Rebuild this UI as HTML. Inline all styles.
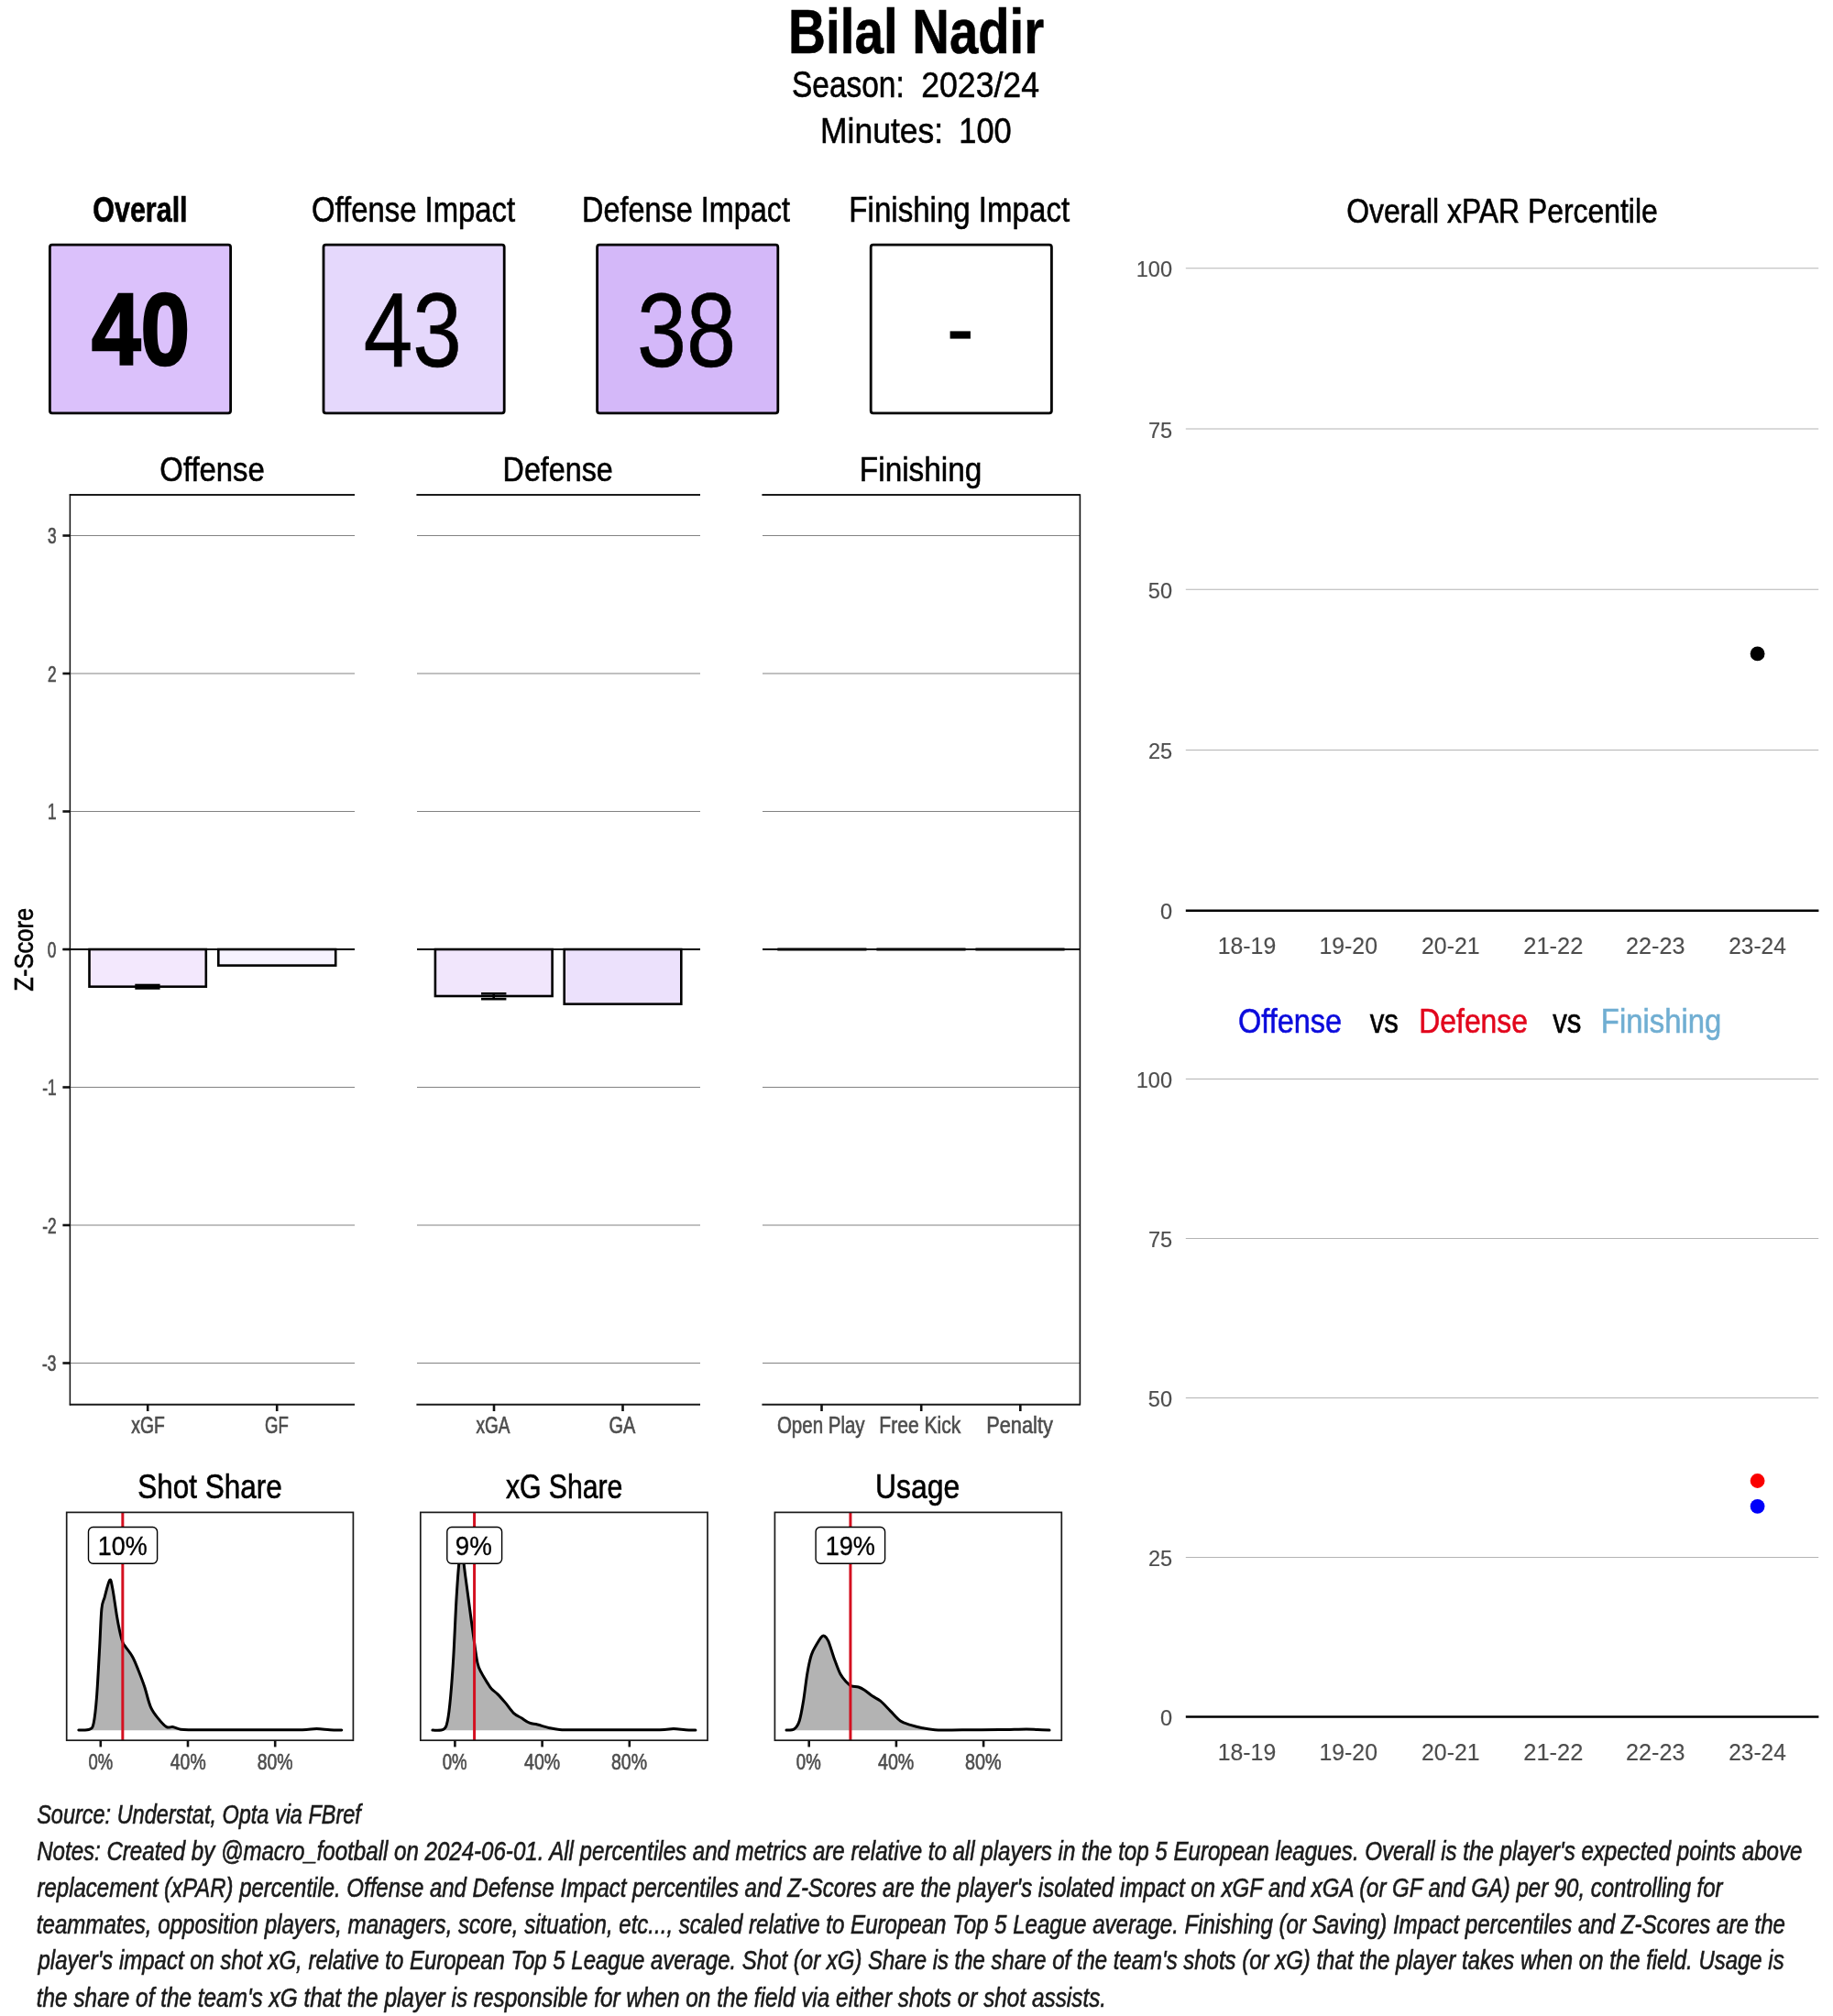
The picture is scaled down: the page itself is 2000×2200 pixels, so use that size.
<!DOCTYPE html>
<html><head><meta charset="utf-8"><style>
html,body{margin:0;padding:0;background:#fff;}
svg{display:block;will-change:transform;}
text{font-family:"Liberation Sans",sans-serif;white-space:pre;}
</style></head><body>
<svg width="2000" height="2200" viewBox="0 0 2000 2200">
<rect x="0" y="0" width="2000" height="2200" fill="#FFFFFF"/>
<text transform="translate(860.01,57.90) scale(0.8274,1)" font-size="68.55" font-weight="bold" font-style="normal" fill="#000" stroke="#000" stroke-width="0.604">Bilal</text>
<text transform="translate(995.34,57.90) scale(0.8204,1)" font-size="68.55" font-weight="bold" font-style="normal" fill="#000" stroke="#000" stroke-width="0.609">Nadir</text>
<text transform="translate(863.99,105.90) scale(0.8364,1)" font-size="40.00" font-weight="normal" font-style="normal" fill="#000" stroke="#000" stroke-width="0.598">Season:</text>
<text transform="translate(1005.22,105.90) scale(0.9033,1)" font-size="39.43" font-weight="normal" font-style="normal" fill="#000" stroke="#000" stroke-width="0.554">2023/24</text>
<text transform="translate(894.96,155.50) scale(0.8974,1)" font-size="39.57" font-weight="normal" font-style="normal" fill="#000" stroke="#000" stroke-width="0.557">Minutes:</text>
<text transform="translate(1046.32,155.50) scale(0.8822,1)" font-size="39.00" font-weight="normal" font-style="normal" fill="#000" stroke="#000" stroke-width="0.567">100</text>
<text transform="translate(101.28,242.30) scale(0.7904,1)" font-size="38.55" font-weight="bold" font-style="normal" fill="#000" stroke="#000" stroke-width="0.633">Overall</text>
<text transform="translate(339.92,242.30) scale(0.8464,1)" font-size="38.84" font-weight="normal" font-style="normal" fill="#000" stroke="#000" stroke-width="0.591">Offense Impact</text>
<text transform="translate(635.01,242.30) scale(0.8351,1)" font-size="38.84" font-weight="normal" font-style="normal" fill="#000" stroke="#000" stroke-width="0.599">Defense Impact</text>
<text transform="translate(926.35,242.30) scale(0.8516,1)" font-size="38.84" font-weight="normal" font-style="normal" fill="#000" stroke="#000" stroke-width="0.587">Finishing Impact</text>
<rect x="54.40" y="267.20" width="197.20" height="183.60" fill="#DBC1FB" stroke="#000" stroke-width="2.8" rx="2.5"/>
<rect x="353.00" y="267.20" width="197.20" height="183.60" fill="#E5D8FC" stroke="#000" stroke-width="2.8" rx="2.5"/>
<rect x="651.60" y="267.20" width="197.20" height="183.60" fill="#D4B8F9" stroke="#000" stroke-width="2.8" rx="2.5"/>
<rect x="950.20" y="267.20" width="197.20" height="183.60" fill="#FFFFFF" stroke="#000" stroke-width="2.8" rx="2.5"/>
<text transform="translate(99.95,398.31) scale(0.8648,1)" font-size="111.47" font-weight="bold" font-style="normal" fill="#000" stroke="#000" stroke-width="2.544">40</text>
<text transform="translate(396.77,399.60) scale(0.8362,1)" font-size="115.14" font-weight="normal" font-style="normal" fill="#000" stroke="#000" stroke-width="0.598">43</text>
<text transform="translate(695.01,399.60) scale(0.8440,1)" font-size="115.14" font-weight="normal" font-style="normal" fill="#000" stroke="#000" stroke-width="0.592">38</text>
<rect x="1036.60" y="361.40" width="22.30" height="8.20" fill="#000" stroke="none" stroke-width="0" rx="0"/>
<text transform="translate(174.32,524.80) scale(0.9073,1)" font-size="36.23" font-weight="normal" font-style="normal" fill="#000" stroke="#000" stroke-width="0.551">Offense</text>
<text transform="translate(548.62,525.20) scale(0.8901,1)" font-size="36.23" font-weight="normal" font-style="normal" fill="#000" stroke="#000" stroke-width="0.562">Defense</text>
<text transform="translate(937.83,524.50) scale(0.9214,1)" font-size="36.23" font-weight="normal" font-style="normal" fill="#000" stroke="#000" stroke-width="0.543">Finishing</text>
<line x1="76.40" y1="584.50" x2="387.00" y2="584.50" stroke="#828282" stroke-width="1.1"/>
<line x1="455.00" y1="584.50" x2="764.00" y2="584.50" stroke="#828282" stroke-width="1.1"/>
<line x1="832.00" y1="584.50" x2="1178.40" y2="584.50" stroke="#828282" stroke-width="1.1"/>
<line x1="76.40" y1="735.00" x2="387.00" y2="735.00" stroke="#828282" stroke-width="1.1"/>
<line x1="455.00" y1="735.00" x2="764.00" y2="735.00" stroke="#828282" stroke-width="1.1"/>
<line x1="832.00" y1="735.00" x2="1178.40" y2="735.00" stroke="#828282" stroke-width="1.1"/>
<line x1="76.40" y1="885.50" x2="387.00" y2="885.50" stroke="#828282" stroke-width="1.1"/>
<line x1="455.00" y1="885.50" x2="764.00" y2="885.50" stroke="#828282" stroke-width="1.1"/>
<line x1="832.00" y1="885.50" x2="1178.40" y2="885.50" stroke="#828282" stroke-width="1.1"/>
<line x1="76.40" y1="1186.50" x2="387.00" y2="1186.50" stroke="#828282" stroke-width="1.1"/>
<line x1="455.00" y1="1186.50" x2="764.00" y2="1186.50" stroke="#828282" stroke-width="1.1"/>
<line x1="832.00" y1="1186.50" x2="1178.40" y2="1186.50" stroke="#828282" stroke-width="1.1"/>
<line x1="76.40" y1="1337.00" x2="387.00" y2="1337.00" stroke="#828282" stroke-width="1.1"/>
<line x1="455.00" y1="1337.00" x2="764.00" y2="1337.00" stroke="#828282" stroke-width="1.1"/>
<line x1="832.00" y1="1337.00" x2="1178.40" y2="1337.00" stroke="#828282" stroke-width="1.1"/>
<line x1="76.40" y1="1487.50" x2="387.00" y2="1487.50" stroke="#828282" stroke-width="1.1"/>
<line x1="455.00" y1="1487.50" x2="764.00" y2="1487.50" stroke="#828282" stroke-width="1.1"/>
<line x1="832.00" y1="1487.50" x2="1178.40" y2="1487.50" stroke="#828282" stroke-width="1.1"/>
<line x1="75.80" y1="540.00" x2="387.00" y2="540.00" stroke="#1a1a1a" stroke-width="2.0"/>
<line x1="75.80" y1="1532.70" x2="387.00" y2="1532.70" stroke="#1a1a1a" stroke-width="2.0"/>
<line x1="454.40" y1="540.00" x2="764.00" y2="540.00" stroke="#1a1a1a" stroke-width="2.0"/>
<line x1="454.40" y1="1532.70" x2="764.00" y2="1532.70" stroke="#1a1a1a" stroke-width="2.0"/>
<line x1="831.40" y1="540.00" x2="1178.40" y2="540.00" stroke="#1a1a1a" stroke-width="2.0"/>
<line x1="831.40" y1="1532.70" x2="1178.40" y2="1532.70" stroke="#1a1a1a" stroke-width="2.0"/>
<line x1="76.40" y1="539.20" x2="76.40" y2="1533.50" stroke="#111" stroke-width="1.5"/>
<line x1="1178.40" y1="539.20" x2="1178.40" y2="1533.50" stroke="#111" stroke-width="1.6"/>
<line x1="68.40" y1="584.50" x2="76.40" y2="584.50" stroke="#111" stroke-width="2.6"/>
<text transform="translate(51.89,593.15) scale(0.7000,1)" font-size="24.71" font-weight="normal" font-style="normal" fill="#4D4D4D" stroke="#4D4D4D" stroke-width="0.714">3</text>
<line x1="68.40" y1="735.00" x2="76.40" y2="735.00" stroke="#111" stroke-width="2.6"/>
<text transform="translate(52.06,743.65) scale(0.7000,1)" font-size="24.71" font-weight="normal" font-style="normal" fill="#4D4D4D" stroke="#4D4D4D" stroke-width="0.714">2</text>
<line x1="68.40" y1="885.50" x2="76.40" y2="885.50" stroke="#111" stroke-width="2.6"/>
<text transform="translate(51.98,894.15) scale(0.7000,1)" font-size="24.71" font-weight="normal" font-style="normal" fill="#4D4D4D" stroke="#4D4D4D" stroke-width="0.714">1</text>
<line x1="68.40" y1="1036.00" x2="76.40" y2="1036.00" stroke="#111" stroke-width="2.6"/>
<text transform="translate(51.80,1044.65) scale(0.7000,1)" font-size="24.71" font-weight="normal" font-style="normal" fill="#4D4D4D" stroke="#4D4D4D" stroke-width="0.714">0</text>
<line x1="68.40" y1="1186.50" x2="76.40" y2="1186.50" stroke="#111" stroke-width="2.6"/>
<text transform="translate(46.18,1195.15) scale(0.7000,1)" font-size="24.71" font-weight="normal" font-style="normal" fill="#4D4D4D" stroke="#4D4D4D" stroke-width="0.714">-1</text>
<line x1="68.40" y1="1337.00" x2="76.40" y2="1337.00" stroke="#111" stroke-width="2.6"/>
<text transform="translate(46.27,1345.65) scale(0.7000,1)" font-size="24.71" font-weight="normal" font-style="normal" fill="#4D4D4D" stroke="#4D4D4D" stroke-width="0.714">-2</text>
<line x1="68.40" y1="1487.50" x2="76.40" y2="1487.50" stroke="#111" stroke-width="2.6"/>
<text transform="translate(46.09,1496.15) scale(0.7000,1)" font-size="24.71" font-weight="normal" font-style="normal" fill="#4D4D4D" stroke="#4D4D4D" stroke-width="0.714">-3</text>
<line x1="68.70" y1="1036.00" x2="387.00" y2="1036.00" stroke="#000" stroke-width="1.8"/>
<line x1="455.00" y1="1036.00" x2="764.00" y2="1036.00" stroke="#000" stroke-width="1.8"/>
<line x1="832.00" y1="1036.00" x2="1178.40" y2="1036.00" stroke="#000" stroke-width="1.8"/>
<rect x="97.50" y="1036.00" width="127.30" height="40.70" fill="#F3E8FD" stroke="#000" stroke-width="2.6" rx="0"/>
<rect x="238.30" y="1036.00" width="127.90" height="17.60" fill="#F6F3FE" stroke="#000" stroke-width="2.6" rx="0"/>
<rect x="474.90" y="1036.00" width="127.70" height="51.00" fill="#F1E6FC" stroke="#000" stroke-width="2.6" rx="0"/>
<rect x="615.70" y="1036.00" width="127.60" height="59.70" fill="#ECE1FC" stroke="#000" stroke-width="2.6" rx="0"/>
<line x1="147.30" y1="1075.00" x2="174.60" y2="1075.00" stroke="#000" stroke-width="2.6"/>
<line x1="147.30" y1="1078.50" x2="174.60" y2="1078.50" stroke="#000" stroke-width="2.6"/>
<line x1="160.95" y1="1075.00" x2="160.95" y2="1078.50" stroke="#000" stroke-width="2.6"/>
<line x1="525.00" y1="1084.30" x2="552.40" y2="1084.30" stroke="#000" stroke-width="2.6"/>
<line x1="525.00" y1="1090.20" x2="552.40" y2="1090.20" stroke="#000" stroke-width="2.6"/>
<line x1="538.70" y1="1084.30" x2="538.70" y2="1090.20" stroke="#000" stroke-width="2.6"/>
<line x1="848.30" y1="1036.00" x2="945.50" y2="1036.00" stroke="#000" stroke-width="3.2"/>
<line x1="956.40" y1="1036.00" x2="1053.60" y2="1036.00" stroke="#000" stroke-width="3.2"/>
<line x1="1064.40" y1="1036.00" x2="1161.60" y2="1036.00" stroke="#000" stroke-width="3.2"/>
<line x1="161.20" y1="1532.60" x2="161.20" y2="1540.00" stroke="#111" stroke-width="2.6"/>
<line x1="302.20" y1="1532.60" x2="302.20" y2="1540.00" stroke="#111" stroke-width="2.6"/>
<line x1="539.00" y1="1532.60" x2="539.00" y2="1540.00" stroke="#111" stroke-width="2.6"/>
<line x1="679.50" y1="1532.60" x2="679.50" y2="1540.00" stroke="#111" stroke-width="2.6"/>
<line x1="896.50" y1="1532.60" x2="896.50" y2="1540.00" stroke="#111" stroke-width="2.6"/>
<line x1="1005.20" y1="1532.60" x2="1005.20" y2="1540.00" stroke="#111" stroke-width="2.6"/>
<line x1="1113.30" y1="1532.60" x2="1113.30" y2="1540.00" stroke="#111" stroke-width="2.6"/>
<text transform="translate(143.21,1563.80) scale(0.7717,1)" font-size="25.07" font-weight="normal" font-style="normal" fill="#4D4D4D" stroke="#4D4D4D" stroke-width="0.648">xGF</text>
<text transform="translate(289.07,1563.80) scale(0.7425,1)" font-size="25.07" font-weight="normal" font-style="normal" fill="#4D4D4D" stroke="#4D4D4D" stroke-width="0.673">GF</text>
<text transform="translate(519.61,1563.80) scale(0.7565,1)" font-size="25.07" font-weight="normal" font-style="normal" fill="#4D4D4D" stroke="#4D4D4D" stroke-width="0.661">xGA</text>
<text transform="translate(664.50,1563.80) scale(0.7948,1)" font-size="25.07" font-weight="normal" font-style="normal" fill="#4D4D4D" stroke="#4D4D4D" stroke-width="0.629">GA</text>
<text transform="translate(847.88,1563.80) scale(0.8184,1)" font-size="25.07" font-weight="normal" font-style="normal" fill="#4D4D4D" stroke="#4D4D4D" stroke-width="0.611">Open Play</text>
<text transform="translate(959.31,1563.80) scale(0.8410,1)" font-size="25.07" font-weight="normal" font-style="normal" fill="#4D4D4D" stroke="#4D4D4D" stroke-width="0.595">Free Kick</text>
<text transform="translate(1076.15,1563.80) scale(0.8700,1)" font-size="25.07" font-weight="normal" font-style="normal" fill="#4D4D4D" stroke="#4D4D4D" stroke-width="0.575">Penalty</text>
<g transform="translate(36.1,1036.4) rotate(-90)">
<text transform="translate(-45.27,0.00) scale(0.8566,1)" font-size="29.86" font-weight="normal" font-style="normal" fill="#000" stroke="#000" stroke-width="0.584">Z-Score</text>
</g>
<text transform="translate(150.28,1634.70) scale(0.8685,1)" font-size="36.23" font-weight="normal" font-style="normal" fill="#000" stroke="#000" stroke-width="0.576">Shot Share</text>
<path d="M85.80,1888.00 C87.80,1887.87 95.07,1888.50 97.80,1887.20 C100.53,1885.90 100.92,1886.08 102.20,1880.20 C103.48,1874.32 104.42,1865.72 105.50,1851.90 C106.58,1838.08 107.80,1813.32 108.70,1797.30 C109.60,1781.28 109.98,1764.88 110.90,1755.80 C111.82,1746.72 112.73,1748.07 114.20,1742.80 C115.67,1737.53 118.25,1725.67 119.70,1724.20 C121.15,1722.73 121.63,1727.63 122.90,1734.00 C124.17,1740.37 126.02,1754.75 127.30,1762.40 C128.58,1770.05 129.52,1774.98 130.60,1779.90 C131.68,1784.82 132.72,1789.00 133.80,1791.90 C134.88,1794.80 135.28,1794.58 137.10,1797.30 C138.92,1800.02 142.33,1803.83 144.70,1808.20 C147.07,1812.57 149.12,1818.03 151.30,1823.50 C153.48,1828.97 155.62,1834.45 157.80,1841.00 C159.98,1847.55 161.85,1856.98 164.40,1862.80 C166.95,1868.62 170.20,1872.27 173.10,1875.90 C176.00,1879.53 179.25,1883.15 181.80,1884.60 C184.35,1886.05 185.85,1884.17 188.40,1884.60 C190.95,1885.03 193.50,1886.68 197.10,1887.20 C200.70,1887.72 201.18,1887.60 210.00,1887.70 C218.82,1887.80 235.00,1887.80 250.00,1887.80 C265.00,1887.80 286.67,1887.72 300.00,1887.70 C313.33,1887.68 322.42,1887.88 330.00,1887.70 C337.58,1887.52 340.50,1886.60 345.50,1886.60 C350.50,1886.60 355.45,1887.47 360.00,1887.70 C364.55,1887.93 370.67,1887.95 372.80,1888.00 L372.80,1888.3 L85.80,1888.3 Z" fill="#B3B3B3" stroke="none"/>
<path d="M85.80,1888.00 C87.80,1887.87 95.07,1888.50 97.80,1887.20 C100.53,1885.90 100.92,1886.08 102.20,1880.20 C103.48,1874.32 104.42,1865.72 105.50,1851.90 C106.58,1838.08 107.80,1813.32 108.70,1797.30 C109.60,1781.28 109.98,1764.88 110.90,1755.80 C111.82,1746.72 112.73,1748.07 114.20,1742.80 C115.67,1737.53 118.25,1725.67 119.70,1724.20 C121.15,1722.73 121.63,1727.63 122.90,1734.00 C124.17,1740.37 126.02,1754.75 127.30,1762.40 C128.58,1770.05 129.52,1774.98 130.60,1779.90 C131.68,1784.82 132.72,1789.00 133.80,1791.90 C134.88,1794.80 135.28,1794.58 137.10,1797.30 C138.92,1800.02 142.33,1803.83 144.70,1808.20 C147.07,1812.57 149.12,1818.03 151.30,1823.50 C153.48,1828.97 155.62,1834.45 157.80,1841.00 C159.98,1847.55 161.85,1856.98 164.40,1862.80 C166.95,1868.62 170.20,1872.27 173.10,1875.90 C176.00,1879.53 179.25,1883.15 181.80,1884.60 C184.35,1886.05 185.85,1884.17 188.40,1884.60 C190.95,1885.03 193.50,1886.68 197.10,1887.20 C200.70,1887.72 201.18,1887.60 210.00,1887.70 C218.82,1887.80 235.00,1887.80 250.00,1887.80 C265.00,1887.80 286.67,1887.72 300.00,1887.70 C313.33,1887.68 322.42,1887.88 330.00,1887.70 C337.58,1887.52 340.50,1886.60 345.50,1886.60 C350.50,1886.60 355.45,1887.47 360.00,1887.70 C364.55,1887.93 370.67,1887.95 372.80,1888.00" fill="none" stroke="#000" stroke-width="3" stroke-linejoin="round" stroke-linecap="round"/>
<line x1="133.84" y1="1650.40" x2="133.84" y2="1899.20" stroke="#D41020" stroke-width="3"/>
<rect x="96.50" y="1666.50" width="75.10" height="39.70" fill="#FFFFFF" stroke="#000" stroke-width="1.4" rx="5"/>
<text transform="translate(106.68,1697.00) scale(0.9305,1)" font-size="29.00" font-weight="normal" font-style="normal" fill="#000" stroke="#000" stroke-width="0.322">10%</text>
<rect x="72.70" y="1650.40" width="312.70" height="248.80" fill="none" stroke="#1a1a1a" stroke-width="1.7" rx="0"/>
<line x1="109.80" y1="1899.20" x2="109.80" y2="1906.40" stroke="#111" stroke-width="2.6"/>
<text transform="translate(96.46,1930.50) scale(0.7882,1)" font-size="23.43" font-weight="normal" font-style="normal" fill="#4D4D4D" stroke="#4D4D4D" stroke-width="0.634">0%</text>
<line x1="205.00" y1="1899.20" x2="205.00" y2="1906.40" stroke="#111" stroke-width="2.6"/>
<text transform="translate(185.81,1930.50) scale(0.8295,1)" font-size="23.43" font-weight="normal" font-style="normal" fill="#4D4D4D" stroke="#4D4D4D" stroke-width="0.603">40%</text>
<line x1="300.20" y1="1899.20" x2="300.20" y2="1906.40" stroke="#111" stroke-width="2.6"/>
<text transform="translate(280.73,1930.50) scale(0.8292,1)" font-size="23.43" font-weight="normal" font-style="normal" fill="#4D4D4D" stroke="#4D4D4D" stroke-width="0.603">80%</text>
<text transform="translate(551.90,1634.70) scale(0.8333,1)" font-size="36.23" font-weight="normal" font-style="normal" fill="#000" stroke="#000" stroke-width="0.600">xG Share</text>
<path d="M471.90,1888.10 C473.90,1887.95 481.17,1888.88 483.90,1887.20 C486.63,1885.52 487.02,1883.88 488.30,1878.00 C489.58,1872.12 490.52,1863.53 491.60,1851.90 C492.68,1840.27 493.72,1826.38 494.80,1808.20 C495.88,1790.02 496.98,1760.83 498.10,1742.80 C499.22,1724.77 500.40,1707.47 501.50,1700.00 C502.60,1692.53 503.63,1694.52 504.70,1698.00 C505.77,1701.48 506.63,1711.62 507.90,1720.90 C509.17,1730.18 510.83,1742.78 512.30,1753.70 C513.77,1764.62 515.25,1776.22 516.70,1786.40 C518.15,1796.58 519.55,1808.25 521.00,1814.80 C522.45,1821.35 523.58,1822.07 525.40,1825.70 C527.22,1829.33 530.08,1833.70 531.90,1836.60 C533.72,1839.50 534.48,1841.10 536.30,1843.10 C538.12,1845.10 540.25,1846.05 542.80,1848.60 C545.35,1851.15 548.68,1854.95 551.60,1858.40 C554.52,1861.85 557.40,1866.57 560.30,1869.30 C563.20,1872.03 566.08,1872.98 569.00,1874.80 C571.92,1876.62 574.88,1879.00 577.80,1880.20 C580.72,1881.40 582.87,1881.08 586.50,1882.00 C590.13,1882.92 595.60,1884.80 599.60,1885.70 C603.60,1886.60 605.43,1887.05 610.50,1887.40 C615.57,1887.75 618.42,1887.73 630.00,1887.80 C641.58,1887.87 665.00,1887.82 680.00,1887.80 C695.00,1887.78 710.85,1887.90 720.00,1887.70 C729.15,1887.50 730.23,1886.60 734.90,1886.60 C739.57,1886.60 744.00,1887.45 748.00,1887.70 C752.00,1887.95 757.08,1888.03 758.90,1888.10 L758.90,1888.3 L471.90,1888.3 Z" fill="#B3B3B3" stroke="none"/>
<path d="M471.90,1888.10 C473.90,1887.95 481.17,1888.88 483.90,1887.20 C486.63,1885.52 487.02,1883.88 488.30,1878.00 C489.58,1872.12 490.52,1863.53 491.60,1851.90 C492.68,1840.27 493.72,1826.38 494.80,1808.20 C495.88,1790.02 496.98,1760.83 498.10,1742.80 C499.22,1724.77 500.40,1707.47 501.50,1700.00 C502.60,1692.53 503.63,1694.52 504.70,1698.00 C505.77,1701.48 506.63,1711.62 507.90,1720.90 C509.17,1730.18 510.83,1742.78 512.30,1753.70 C513.77,1764.62 515.25,1776.22 516.70,1786.40 C518.15,1796.58 519.55,1808.25 521.00,1814.80 C522.45,1821.35 523.58,1822.07 525.40,1825.70 C527.22,1829.33 530.08,1833.70 531.90,1836.60 C533.72,1839.50 534.48,1841.10 536.30,1843.10 C538.12,1845.10 540.25,1846.05 542.80,1848.60 C545.35,1851.15 548.68,1854.95 551.60,1858.40 C554.52,1861.85 557.40,1866.57 560.30,1869.30 C563.20,1872.03 566.08,1872.98 569.00,1874.80 C571.92,1876.62 574.88,1879.00 577.80,1880.20 C580.72,1881.40 582.87,1881.08 586.50,1882.00 C590.13,1882.92 595.60,1884.80 599.60,1885.70 C603.60,1886.60 605.43,1887.05 610.50,1887.40 C615.57,1887.75 618.42,1887.73 630.00,1887.80 C641.58,1887.87 665.00,1887.82 680.00,1887.80 C695.00,1887.78 710.85,1887.90 720.00,1887.70 C729.15,1887.50 730.23,1886.60 734.90,1886.60 C739.57,1886.60 744.00,1887.45 748.00,1887.70 C752.00,1887.95 757.08,1888.03 758.90,1888.10" fill="none" stroke="#000" stroke-width="3" stroke-linejoin="round" stroke-linecap="round"/>
<line x1="517.58" y1="1650.40" x2="517.58" y2="1899.20" stroke="#D41020" stroke-width="3"/>
<rect x="487.80" y="1666.50" width="59.80" height="39.70" fill="#FFFFFF" stroke="#000" stroke-width="1.4" rx="5"/>
<text transform="translate(496.85,1697.00) scale(0.9549,1)" font-size="29.00" font-weight="normal" font-style="normal" fill="#000" stroke="#000" stroke-width="0.314">9%</text>
<rect x="458.80" y="1650.40" width="313.20" height="248.80" fill="none" stroke="#1a1a1a" stroke-width="1.7" rx="0"/>
<line x1="496.40" y1="1899.20" x2="496.40" y2="1906.40" stroke="#111" stroke-width="2.6"/>
<text transform="translate(482.76,1930.50) scale(0.7945,1)" font-size="23.43" font-weight="normal" font-style="normal" fill="#4D4D4D" stroke="#4D4D4D" stroke-width="0.629">0%</text>
<line x1="591.60" y1="1899.20" x2="591.60" y2="1906.40" stroke="#111" stroke-width="2.6"/>
<text transform="translate(572.11,1930.50) scale(0.8339,1)" font-size="23.43" font-weight="normal" font-style="normal" fill="#4D4D4D" stroke="#4D4D4D" stroke-width="0.600">40%</text>
<line x1="686.80" y1="1899.20" x2="686.80" y2="1906.40" stroke="#111" stroke-width="2.6"/>
<text transform="translate(667.02,1930.50) scale(0.8337,1)" font-size="23.43" font-weight="normal" font-style="normal" fill="#4D4D4D" stroke="#4D4D4D" stroke-width="0.600">80%</text>
<text transform="translate(954.91,1634.70) scale(0.8808,1)" font-size="36.23" font-weight="normal" font-style="normal" fill="#000" stroke="#000" stroke-width="0.568">Usage</text>
<path d="M858.00,1888.10 C859.45,1887.88 864.33,1888.48 866.70,1886.80 C869.07,1885.12 870.55,1883.10 872.20,1878.00 C873.85,1872.90 875.15,1864.92 876.60,1856.20 C878.05,1847.48 879.45,1834.07 880.90,1825.70 C882.35,1817.33 883.67,1811.10 885.30,1806.00 C886.93,1800.90 888.88,1798.37 890.70,1795.10 C892.52,1791.83 894.73,1788.03 896.20,1786.40 C897.67,1784.77 898.23,1784.57 899.50,1785.30 C900.77,1786.03 901.98,1786.62 903.80,1790.80 C905.62,1794.98 908.22,1804.40 910.40,1810.40 C912.58,1816.40 914.72,1822.62 916.90,1826.80 C919.08,1830.98 921.50,1833.32 923.50,1835.50 C925.50,1837.68 926.72,1838.98 928.90,1839.90 C931.08,1840.82 934.23,1840.28 936.60,1841.00 C938.97,1841.72 940.57,1842.57 943.10,1844.20 C945.63,1845.83 948.88,1848.80 951.80,1850.80 C954.72,1852.80 957.32,1853.48 960.60,1856.20 C963.88,1858.92 967.87,1863.47 971.50,1867.10 C975.13,1870.73 978.77,1875.45 982.40,1878.00 C986.03,1880.55 989.30,1881.12 993.30,1882.40 C997.30,1883.68 1001.30,1884.78 1006.40,1885.70 C1011.50,1886.62 1016.63,1887.57 1023.90,1887.90 C1031.17,1888.23 1038.98,1887.75 1050.00,1887.70 C1061.02,1887.65 1078.35,1887.72 1090.00,1887.60 C1101.65,1887.48 1112.90,1887.00 1119.90,1887.00 C1126.90,1887.00 1127.82,1887.42 1132.00,1887.60 C1136.18,1887.78 1142.83,1888.02 1145.00,1888.10 L1145.00,1888.3 L858.00,1888.3 Z" fill="#B3B3B3" stroke="none"/>
<path d="M858.00,1888.10 C859.45,1887.88 864.33,1888.48 866.70,1886.80 C869.07,1885.12 870.55,1883.10 872.20,1878.00 C873.85,1872.90 875.15,1864.92 876.60,1856.20 C878.05,1847.48 879.45,1834.07 880.90,1825.70 C882.35,1817.33 883.67,1811.10 885.30,1806.00 C886.93,1800.90 888.88,1798.37 890.70,1795.10 C892.52,1791.83 894.73,1788.03 896.20,1786.40 C897.67,1784.77 898.23,1784.57 899.50,1785.30 C900.77,1786.03 901.98,1786.62 903.80,1790.80 C905.62,1794.98 908.22,1804.40 910.40,1810.40 C912.58,1816.40 914.72,1822.62 916.90,1826.80 C919.08,1830.98 921.50,1833.32 923.50,1835.50 C925.50,1837.68 926.72,1838.98 928.90,1839.90 C931.08,1840.82 934.23,1840.28 936.60,1841.00 C938.97,1841.72 940.57,1842.57 943.10,1844.20 C945.63,1845.83 948.88,1848.80 951.80,1850.80 C954.72,1852.80 957.32,1853.48 960.60,1856.20 C963.88,1858.92 967.87,1863.47 971.50,1867.10 C975.13,1870.73 978.77,1875.45 982.40,1878.00 C986.03,1880.55 989.30,1881.12 993.30,1882.40 C997.30,1883.68 1001.30,1884.78 1006.40,1885.70 C1011.50,1886.62 1016.63,1887.57 1023.90,1887.90 C1031.17,1888.23 1038.98,1887.75 1050.00,1887.70 C1061.02,1887.65 1078.35,1887.72 1090.00,1887.60 C1101.65,1887.48 1112.90,1887.00 1119.90,1887.00 C1126.90,1887.00 1127.82,1887.42 1132.00,1887.60 C1136.18,1887.78 1142.83,1888.02 1145.00,1888.10" fill="none" stroke="#000" stroke-width="3" stroke-linejoin="round" stroke-linecap="round"/>
<line x1="927.92" y1="1650.40" x2="927.92" y2="1899.20" stroke="#D41020" stroke-width="3"/>
<rect x="890.10" y="1666.50" width="75.50" height="39.70" fill="#FFFFFF" stroke="#000" stroke-width="1.4" rx="5"/>
<text transform="translate(900.66,1697.00) scale(0.9360,1)" font-size="29.00" font-weight="normal" font-style="normal" fill="#000" stroke="#000" stroke-width="0.321">19%</text>
<rect x="845.40" y="1650.40" width="312.90" height="248.80" fill="none" stroke="#1a1a1a" stroke-width="1.7" rx="0"/>
<line x1="882.70" y1="1899.20" x2="882.70" y2="1906.40" stroke="#111" stroke-width="2.6"/>
<text transform="translate(868.86,1930.50) scale(0.7945,1)" font-size="23.43" font-weight="normal" font-style="normal" fill="#4D4D4D" stroke="#4D4D4D" stroke-width="0.629">0%</text>
<line x1="977.90" y1="1899.20" x2="977.90" y2="1906.40" stroke="#111" stroke-width="2.6"/>
<text transform="translate(958.01,1930.50) scale(0.8383,1)" font-size="23.43" font-weight="normal" font-style="normal" fill="#4D4D4D" stroke="#4D4D4D" stroke-width="0.596">40%</text>
<line x1="1073.10" y1="1899.20" x2="1073.10" y2="1906.40" stroke="#111" stroke-width="2.6"/>
<text transform="translate(1053.11,1930.50) scale(0.8448,1)" font-size="23.43" font-weight="normal" font-style="normal" fill="#4D4D4D" stroke="#4D4D4D" stroke-width="0.592">80%</text>
<text transform="translate(1469.16,243.00) scale(0.8563,1)" font-size="37.25" font-weight="normal" font-style="normal" fill="#000" stroke="#000" stroke-width="0.584">Overall xPAR Percentile</text>
<line x1="1293.80" y1="292.80" x2="1984.20" y2="292.80" stroke="#B4B4B4" stroke-width="1.1"/>
<line x1="1293.80" y1="468.05" x2="1984.20" y2="468.05" stroke="#B4B4B4" stroke-width="1.1"/>
<line x1="1293.80" y1="643.30" x2="1984.20" y2="643.30" stroke="#B4B4B4" stroke-width="1.1"/>
<line x1="1293.80" y1="818.55" x2="1984.20" y2="818.55" stroke="#B4B4B4" stroke-width="1.1"/>
<line x1="1293.80" y1="993.80" x2="1984.40" y2="993.80" stroke="#000" stroke-width="2.6"/>
<text transform="translate(1239.75,302.40) scale(0.9600,1)" font-size="24.57" font-weight="normal" font-style="normal" fill="#4D4D4D" stroke="#4D4D4D" stroke-width="0.156">100</text>
<text transform="translate(1252.96,477.65) scale(0.9600,1)" font-size="24.57" font-weight="normal" font-style="normal" fill="#4D4D4D" stroke="#4D4D4D" stroke-width="0.156">75</text>
<text transform="translate(1252.84,652.90) scale(0.9600,1)" font-size="24.57" font-weight="normal" font-style="normal" fill="#4D4D4D" stroke="#4D4D4D" stroke-width="0.156">50</text>
<text transform="translate(1252.96,828.15) scale(0.9600,1)" font-size="24.57" font-weight="normal" font-style="normal" fill="#4D4D4D" stroke="#4D4D4D" stroke-width="0.156">25</text>
<text transform="translate(1265.93,1003.40) scale(0.9600,1)" font-size="24.57" font-weight="normal" font-style="normal" fill="#4D4D4D" stroke="#4D4D4D" stroke-width="0.156">0</text>
<text transform="translate(1328.74,1041.00) scale(0.9810,1)" font-size="25.29" font-weight="normal" font-style="normal" fill="#4D4D4D" stroke="#4D4D4D" stroke-width="0.153">18-19</text>
<text transform="translate(1439.54,1041.00) scale(0.9802,1)" font-size="25.29" font-weight="normal" font-style="normal" fill="#4D4D4D" stroke="#4D4D4D" stroke-width="0.153">19-20</text>
<text transform="translate(1551.06,1041.00) scale(0.9823,1)" font-size="25.29" font-weight="normal" font-style="normal" fill="#4D4D4D" stroke="#4D4D4D" stroke-width="0.153">20-21</text>
<text transform="translate(1662.23,1041.00) scale(1.0068,1)" font-size="25.29" font-weight="normal" font-style="normal" fill="#4D4D4D" stroke="#4D4D4D" stroke-width="0.149">21-22</text>
<text transform="translate(1774.04,1041.00) scale(0.9947,1)" font-size="25.29" font-weight="normal" font-style="normal" fill="#4D4D4D" stroke="#4D4D4D" stroke-width="0.151">22-23</text>
<text transform="translate(1886.18,1041.00) scale(0.9683,1)" font-size="25.29" font-weight="normal" font-style="normal" fill="#4D4D4D" stroke="#4D4D4D" stroke-width="0.155">23-24</text>
<circle cx="1917.6" cy="713.40" r="7.9" fill="#000"/>
<line x1="1293.80" y1="1177.50" x2="1984.20" y2="1177.50" stroke="#B4B4B4" stroke-width="1.1"/>
<line x1="1293.80" y1="1351.50" x2="1984.20" y2="1351.50" stroke="#B4B4B4" stroke-width="1.1"/>
<line x1="1293.80" y1="1525.50" x2="1984.20" y2="1525.50" stroke="#B4B4B4" stroke-width="1.1"/>
<line x1="1293.80" y1="1699.50" x2="1984.20" y2="1699.50" stroke="#B4B4B4" stroke-width="1.1"/>
<line x1="1293.80" y1="1873.50" x2="1984.40" y2="1873.50" stroke="#000" stroke-width="2.6"/>
<text transform="translate(1239.75,1187.10) scale(0.9600,1)" font-size="24.57" font-weight="normal" font-style="normal" fill="#4D4D4D" stroke="#4D4D4D" stroke-width="0.156">100</text>
<text transform="translate(1252.96,1361.10) scale(0.9600,1)" font-size="24.57" font-weight="normal" font-style="normal" fill="#4D4D4D" stroke="#4D4D4D" stroke-width="0.156">75</text>
<text transform="translate(1252.84,1535.10) scale(0.9600,1)" font-size="24.57" font-weight="normal" font-style="normal" fill="#4D4D4D" stroke="#4D4D4D" stroke-width="0.156">50</text>
<text transform="translate(1252.96,1709.10) scale(0.9600,1)" font-size="24.57" font-weight="normal" font-style="normal" fill="#4D4D4D" stroke="#4D4D4D" stroke-width="0.156">25</text>
<text transform="translate(1265.93,1883.10) scale(0.9600,1)" font-size="24.57" font-weight="normal" font-style="normal" fill="#4D4D4D" stroke="#4D4D4D" stroke-width="0.156">0</text>
<text transform="translate(1328.74,1921.40) scale(0.9810,1)" font-size="25.29" font-weight="normal" font-style="normal" fill="#4D4D4D" stroke="#4D4D4D" stroke-width="0.153">18-19</text>
<text transform="translate(1439.54,1921.40) scale(0.9802,1)" font-size="25.29" font-weight="normal" font-style="normal" fill="#4D4D4D" stroke="#4D4D4D" stroke-width="0.153">19-20</text>
<text transform="translate(1551.06,1921.40) scale(0.9823,1)" font-size="25.29" font-weight="normal" font-style="normal" fill="#4D4D4D" stroke="#4D4D4D" stroke-width="0.153">20-21</text>
<text transform="translate(1662.23,1921.40) scale(1.0068,1)" font-size="25.29" font-weight="normal" font-style="normal" fill="#4D4D4D" stroke="#4D4D4D" stroke-width="0.149">21-22</text>
<text transform="translate(1774.04,1921.40) scale(0.9947,1)" font-size="25.29" font-weight="normal" font-style="normal" fill="#4D4D4D" stroke="#4D4D4D" stroke-width="0.151">22-23</text>
<text transform="translate(1886.18,1921.40) scale(0.9683,1)" font-size="25.29" font-weight="normal" font-style="normal" fill="#4D4D4D" stroke="#4D4D4D" stroke-width="0.155">23-24</text>
<circle cx="1917.6" cy="1615.98" r="7.9" fill="#FA0000"/>
<circle cx="1917.6" cy="1643.82" r="7.9" fill="#0000FA"/>
<text transform="translate(1351.04,1127.30) scale(0.8681,1)" font-size="37.39" font-weight="normal" font-style="normal" fill="#0A0ADC" stroke="#0A0ADC" stroke-width="0.576">Offense</text>
<text transform="translate(1494.74,1127.40) scale(0.8358,1)" font-size="37.39" font-weight="normal" font-style="normal" fill="#000" stroke="#000" stroke-width="0.598">vs</text>
<text transform="translate(1548.35,1127.40) scale(0.8514,1)" font-size="37.39" font-weight="normal" font-style="normal" fill="#E2061C" stroke="#E2061C" stroke-width="0.587">Defense</text>
<text transform="translate(1694.24,1127.40) scale(0.8358,1)" font-size="37.39" font-weight="normal" font-style="normal" fill="#000" stroke="#000" stroke-width="0.598">vs</text>
<text transform="translate(1746.87,1127.40) scale(0.8783,1)" font-size="37.39" font-weight="normal" font-style="normal" fill="#70AED2" stroke="#70AED2" stroke-width="0.569">Finishing</text>
<text transform="translate(40.20,1990.10) scale(0.8022,1)" font-size="29.28" font-weight="normal" font-style="italic" fill="#1A1A1A" stroke="#1A1A1A" stroke-width="0.623">Source: Understat, Opta via FBref</text>
<text transform="translate(40.18,2030.20) scale(0.8229,1)" font-size="29.28" font-weight="normal" font-style="italic" fill="#1A1A1A" stroke="#1A1A1A" stroke-width="0.608">Notes: Created by @macro_football on 2024-06-01. All percentiles and metrics are relative to all players in the top 5 European leagues. Overall is the player's expected points above</text>
<text transform="translate(40.54,2070.30) scale(0.8186,1)" font-size="29.28" font-weight="normal" font-style="italic" fill="#1A1A1A" stroke="#1A1A1A" stroke-width="0.611">replacement (xPAR) percentile. Offense and Defense Impact percentiles and Z-Scores are the player's isolated impact on xGF and xGA (or GF and GA) per 90, controlling for</text>
<text transform="translate(39.82,2109.60) scale(0.8222,1)" font-size="29.28" font-weight="normal" font-style="italic" fill="#1A1A1A" stroke="#1A1A1A" stroke-width="0.608">teammates, opposition players, managers, score, situation, etc..., scaled relative to European Top 5 League average. Finishing (or Saving) Impact percentiles and Z-Scores are the</text>
<text transform="translate(41.50,2149.30) scale(0.8187,1)" font-size="29.28" font-weight="normal" font-style="italic" fill="#1A1A1A" stroke="#1A1A1A" stroke-width="0.611">player's impact on shot xG, relative to European Top 5 League average. Shot (or xG) Share is the share of the team's shots (or xG) that the player takes when on the field. Usage is</text>
<text transform="translate(39.80,2189.80) scale(0.8320,1)" font-size="29.28" font-weight="normal" font-style="italic" fill="#1A1A1A" stroke="#1A1A1A" stroke-width="0.601">the share of the team's xG that the player is responsible for when on the field via either shots or shot assists.</text>
</svg>
</body></html>
